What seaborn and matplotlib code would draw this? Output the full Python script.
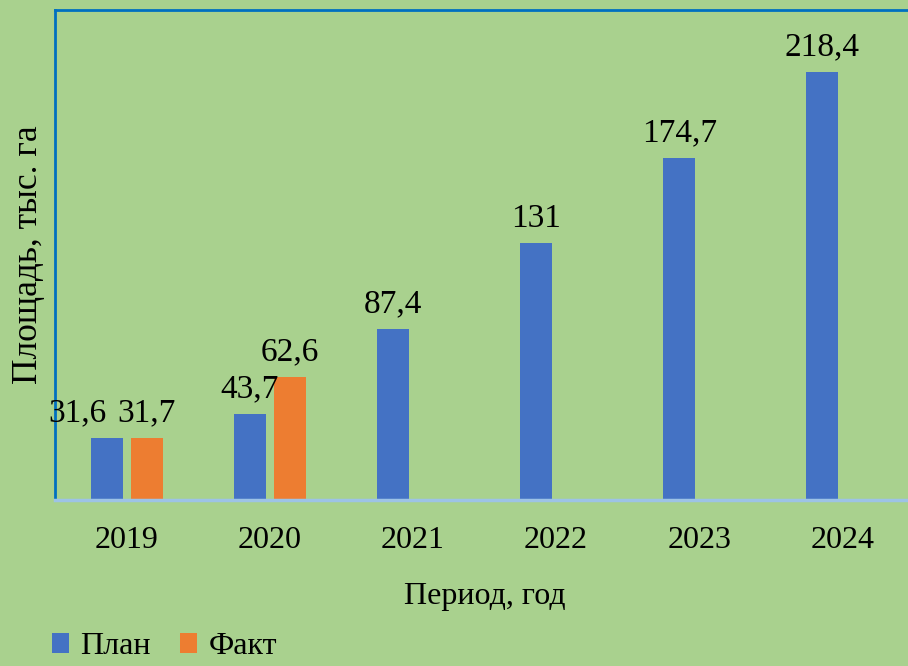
import numpy as np
import pandas as pd
import matplotlib
matplotlib.use("Agg")
import matplotlib.pyplot as plt
import seaborn as sns

years = ["2019", "2020", "2021", "2022", "2023", "2024"]
plan = [31.6, 43.7, 87.4, 131, 174.7, 218.4]
fact = [31.7, 62.6, None, None, None, None]
series_names = ["План", "Факт"]
colors = ["#4472C4", "#ED7D31"]

rows = []
for y, p, f in zip(years, plan, fact):
    rows.append({"year": y, "series": series_names[0], "value": p})
    if f is not None:
        rows.append({"year": y, "series": series_names[1], "value": f})
df = pd.DataFrame(rows)

bg = "#A9D18E"
sns.set_style("white")
plt.rcParams["font.family"] = ["Liberation Serif", "DejaVu Serif"]
plt.rcParams["text.color"] = "black"
plt.rcParams["axes.labelcolor"] = "black"
plt.rcParams["xtick.color"] = "black"

fig = plt.figure(figsize=(9.08, 6.66), dpi=100, facecolor=bg)
ax = fig.add_axes([55 / 908, 166 / 666, 859 / 908, 490 / 666])
ax.set_facecolor(bg)

sns.barplot(data=df, x="year", y="value", hue="series", order=years,
            hue_order=series_names, palette=colors, width=0.56, gap=0.2,
            saturation=1, ax=ax, errorbar=None, legend=True, linewidth=0)

ax.set_xlim(-0.5, 5.5)
ax.set_ylim(0, 250)
ax.set_yticks([])
ax.tick_params(axis="x", length=0, pad=19, labelsize=23, labelcolor="black")
ax.set_xlabel("Период, год", fontsize=23, labelpad=19, color="black")
ax.set_ylabel("Площадь, тыс. га", fontsize=25.5, labelpad=7, color="black")

for side in ["left", "top"]:
    ax.spines[side].set_color("#0070C0")
    ax.spines[side].set_linewidth(2)
ax.spines["right"].set_visible(False)
ax.spines["bottom"].set_color("#9DC3E6")
ax.spines["bottom"].set_linewidth(2.5)

first = True
for cont in ax.containers:
    for bar in cont:
        h = bar.get_height()
        if h is None or np.isnan(h) or h == 0:
            continue
        txt = f"{h:g}".replace(".", ",")
        dx = -21 if first else 0
        first = False
        ax.annotate(txt, (bar.get_x() + bar.get_width() / 2, h),
                    xytext=(dx, 12), textcoords="offset points",
                    ha="center", va="baseline", fontsize=24, color="black")

handles, labels = ax.get_legend_handles_labels()
ax.get_legend().remove()
fig.legend(handles, labels, loc="lower left", bbox_to_anchor=(39 / 908, -0.012),
           ncol=2, frameon=False, fontsize=23, handlelength=0.55,
           handleheight=0.55, handletextpad=0.35, columnspacing=0.9,
           borderaxespad=0.0)

fig.savefig("out.png", dpi=100, facecolor=bg)
